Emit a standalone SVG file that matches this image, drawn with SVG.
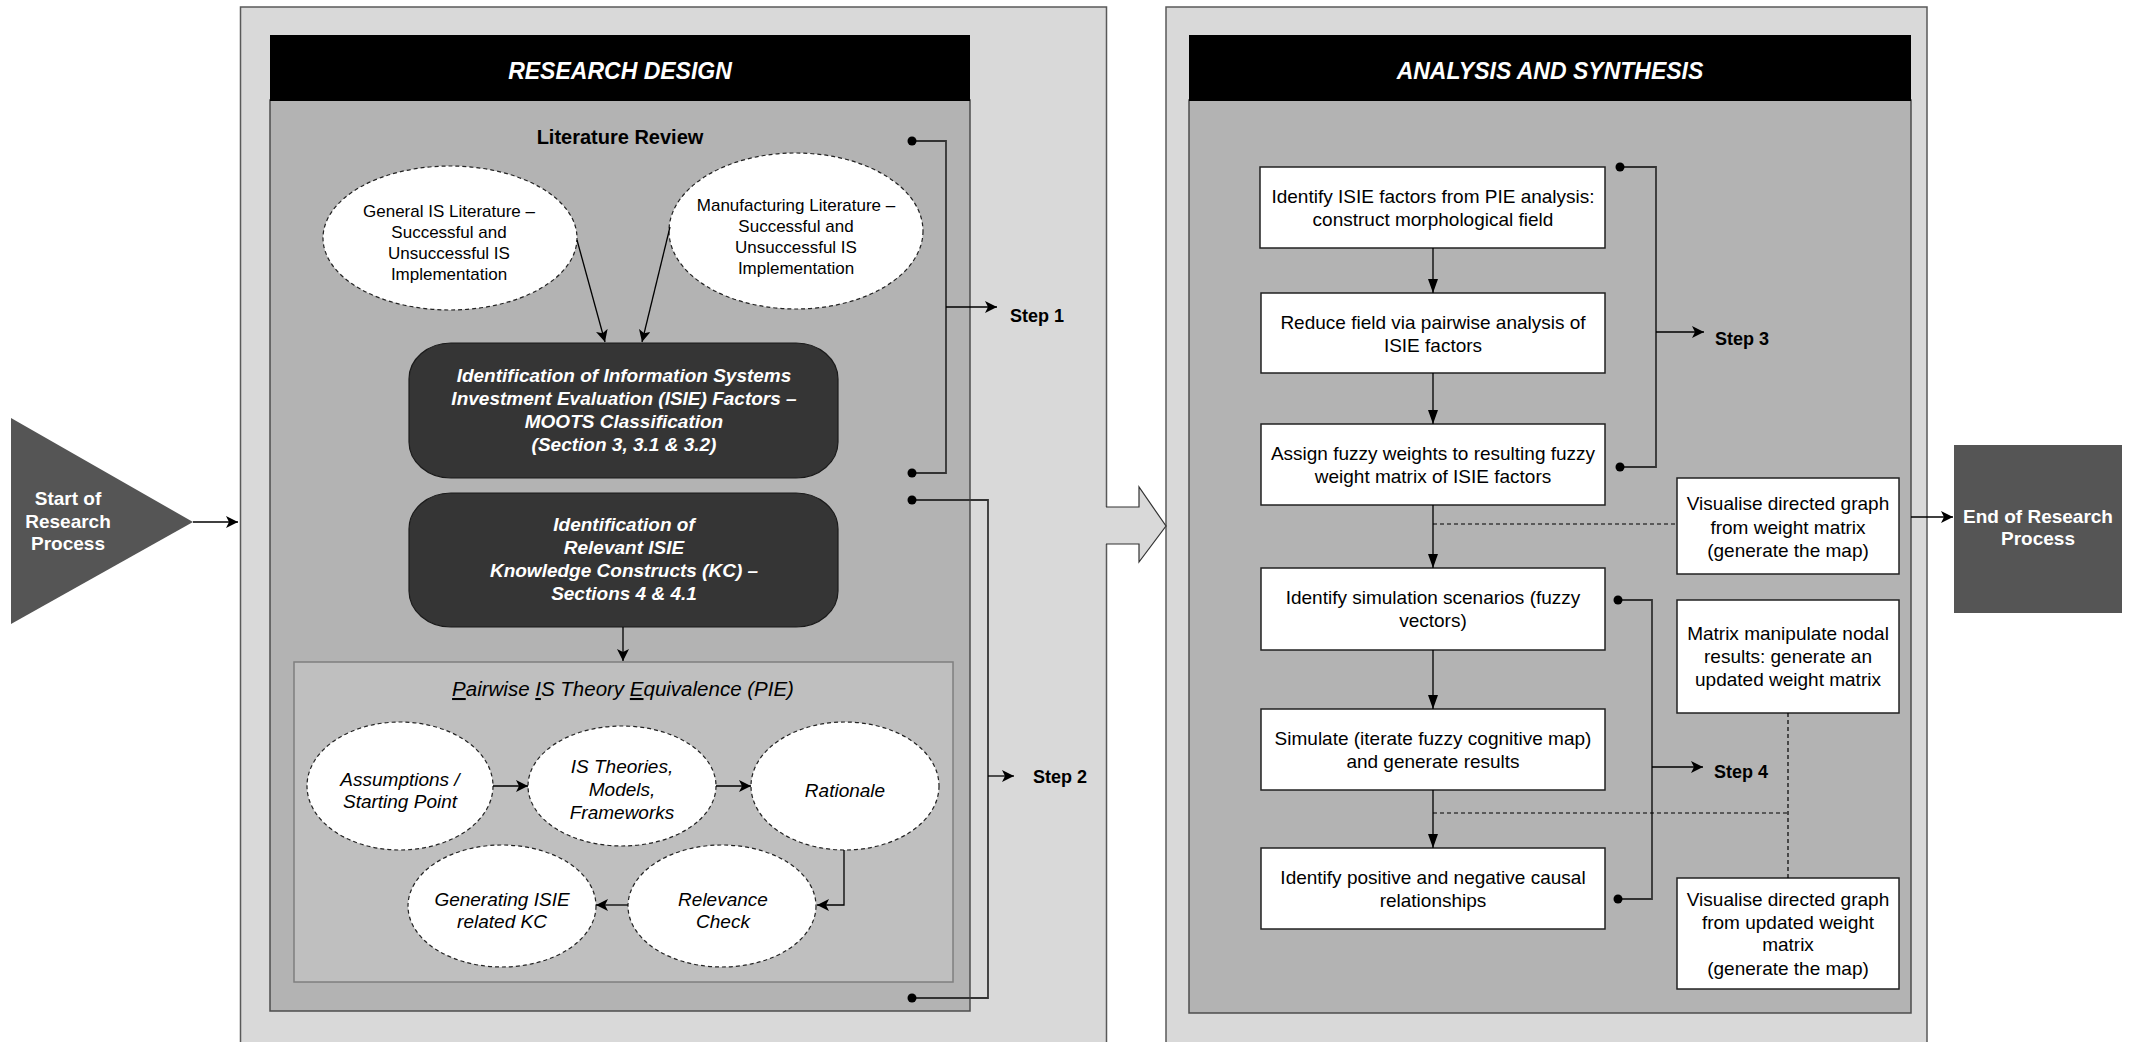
<svg xmlns="http://www.w3.org/2000/svg" width="2129" height="1042" viewBox="0 0 2129 1042">
  <defs>
    <style>
      text { font-family: "Liberation Sans", Arial, sans-serif; }
      .outer { fill: #d9d9d9; stroke: #595959; stroke-width: 1.5; }
      .inner { fill: #b3b3b3; stroke: #4d4d4d; stroke-width: 1.5; }
      .header { fill: #000; }
      .hdr { font-size: 23px; font-weight: bold; font-style: italic; fill: #fff; text-anchor: middle; }
      .sub { font-size: 20px; font-weight: bold; fill: #000; text-anchor: middle; }
      .lit { fill: #fff; stroke: #222; stroke-width: 1.2; stroke-dasharray: 4 3; }
      .t17 { font-size: 17px; fill: #000; text-anchor: middle; }
      .t19 { font-size: 19px; fill: #000; text-anchor: middle; }
      .t19i { font-size: 19px; font-style: italic; fill: #000; text-anchor: middle; }
      .dark { fill: #353535; stroke: #1a1a1a; stroke-width: 1.2; }
      .tw { font-size: 19px; font-weight: bold; font-style: italic; fill: #fff; text-anchor: middle; }
      .pie { fill: #bfbfbf; stroke: #7f7f7f; stroke-width: 1.5; }
      .pietitle { font-size: 20.5px; font-style: italic; fill: #000; text-anchor: middle; }
      .box { fill: #fff; stroke: #222; stroke-width: 1.5; }
      .term { fill: #555; }
      .termtxt { font-size: 19px; font-weight: bold; fill: #fff; text-anchor: middle; }
      .step { font-size: 18px; font-weight: bold; fill: #000; }
      .line { fill: none; stroke: #000; stroke-width: 1.3; }
      .brk { fill: none; stroke: #333; stroke-width: 1.8; }
      .dash { fill: none; stroke: #000; stroke-width: 1.2; stroke-dasharray: 4 3; }
    </style>
    <marker id="arrowFlow" markerUnits="userSpaceOnUse" markerWidth="14" markerHeight="10" refX="14" refY="5" orient="auto">
      <path d="M0,0 L14,5 L0,10 z" fill="#000"/>
    </marker>
    <marker id="arrowStep" markerUnits="userSpaceOnUse" markerWidth="12" markerHeight="12" refX="12" refY="6" orient="auto">
      <path d="M0,0 L12,6 L0,12 L3,6 z" fill="#000"/>
    </marker>
    <marker id="dotEnd" markerUnits="userSpaceOnUse" markerWidth="10" markerHeight="10" refX="5" refY="5" orient="auto">
      <circle cx="5" cy="5" r="4.5" fill="#000"/>
    </marker>
  </defs>

  <rect width="2129" height="1042" fill="#fff"/>

  <!-- Left phase: research design -->
  <g id="panel-research-design">
    <rect class="outer" x="240.5" y="7" width="866" height="1045"/>
    <rect class="inner" x="270" y="100" width="700" height="911"/>
    <rect class="header" x="270" y="35" width="700" height="66"/>
    <text class="hdr" x="620" y="79">RESEARCH DESIGN</text>
    <text class="sub" x="620" y="144">Literature Review</text>
  </g>

  <!-- Right phase: analysis and synthesis -->
  <g id="panel-analysis-synthesis">
    <rect class="outer" x="1166" y="7" width="761" height="1045"/>
    <rect class="inner" x="1189" y="100" width="722" height="913"/>
    <rect class="header" x="1189" y="35" width="722" height="66"/>
    <text class="hdr" x="1550" y="79">ANALYSIS AND SYNTHESIS</text>
  </g>

  <!-- Block arrow joining the two phases -->
  <g id="phase-arrow">
    <polygon points="1104,507 1139,507 1139,487 1166,526 1139,562 1139,544 1104,544" fill="#d9d9d9"/>
    <polyline points="1106,507 1139,507 1139,487 1166,526 1139,562 1139,544 1106,544" fill="none" stroke="#333" stroke-width="1.2"/>
  </g>

  <g id="start">
    <polygon class="term" points="11,418 193,522 11,624"/>
    <text class="termtxt" x="68" y="505">Start of</text>
    <text class="termtxt" x="68" y="528">Research</text>
    <text class="termtxt" x="68" y="550">Process</text>
  </g>

  <g id="end">
    <rect class="term" x="1954" y="445" width="168" height="168"/>
    <text class="termtxt" x="2038" y="523">End of Research</text>
    <text class="termtxt" x="2038" y="545">Process</text>
  </g>

  <g id="lit-general">
    <ellipse class="lit" cx="450" cy="238" rx="127" ry="72"/>
    <text class="t17" x="449" y="217">General IS Literature –</text>
    <text class="t17" x="449" y="238">Successful and</text>
    <text class="t17" x="449" y="259">Unsuccessful IS</text>
    <text class="t17" x="449" y="280">Implementation</text>
  </g>

  <g id="lit-manufacturing">
    <ellipse class="lit" cx="796" cy="231" rx="127" ry="78"/>
    <text class="t17" x="796" y="211">Manufacturing Literature –</text>
    <text class="t17" x="796" y="232">Successful and</text>
    <text class="t17" x="796" y="253">Unsuccessful IS</text>
    <text class="t17" x="796" y="274">Implementation</text>
  </g>

  <g id="isie-factors">
    <rect class="dark" x="409" y="343" width="429" height="135" rx="42" ry="36"/>
    <text class="tw" x="624" y="382">Identification of Information Systems</text>
    <text class="tw" x="624" y="405">Investment Evaluation (ISIE) Factors –</text>
    <text class="tw" x="624" y="428">MOOTS Classification</text>
    <text class="tw" x="624" y="451">(Section 3, 3.1 &amp; 3.2)</text>
  </g>

  <g id="isie-kc">
    <rect class="dark" x="409" y="493" width="429" height="134" rx="42" ry="36"/>
    <text class="tw" x="624" y="531">Identification of</text>
    <text class="tw" x="624" y="554">Relevant ISIE</text>
    <text class="tw" x="624" y="577">Knowledge Constructs (KC) –</text>
    <text class="tw" x="624" y="600">Sections 4 &amp; 4.1</text>
  </g>

  <g id="pie">
    <rect class="pie" x="294" y="662" width="659" height="320"/>
    <text class="pietitle" x="623" y="696"><tspan text-decoration="underline">P</tspan>airwise <tspan text-decoration="underline">I</tspan>S Theory <tspan text-decoration="underline">E</tspan>quivalence (PIE)</text>
  </g>

  <g id="pie-assumptions">
    <ellipse class="lit" cx="400" cy="786" rx="93" ry="64"/>
    <text class="t19i" x="400" y="786">Assumptions /</text>
    <text class="t19i" x="400" y="808">Starting Point</text>
  </g>
  <g id="pie-theories">
    <ellipse class="lit" cx="622" cy="786" rx="94" ry="60"/>
    <text class="t19i" x="622" y="773">IS Theories,</text>
    <text class="t19i" x="622" y="796">Models,</text>
    <text class="t19i" x="622" y="819">Frameworks</text>
  </g>
  <g id="pie-rationale">
    <ellipse class="lit" cx="845" cy="786" rx="94" ry="64"/>
    <text class="t19i" x="845" y="797">Rationale</text>
  </g>
  <g id="pie-relevance">
    <ellipse class="lit" cx="722" cy="906" rx="94" ry="61"/>
    <text class="t19i" x="723" y="906">Relevance</text>
    <text class="t19i" x="723" y="928">Check</text>
  </g>
  <g id="pie-generating">
    <ellipse class="lit" cx="502" cy="906" rx="94" ry="61"/>
    <text class="t19i" x="502" y="906">Generating ISIE</text>
    <text class="t19i" x="502" y="928">related KC</text>
  </g>

  <g id="a-identify">
    <rect class="box" x="1260" y="167" width="345" height="81"/>
    <text class="t19" x="1433" y="203">Identify ISIE factors from PIE analysis:</text>
    <text class="t19" x="1433" y="226">construct morphological field</text>
  </g>
  <g id="a-reduce">
    <rect class="box" x="1261" y="293" width="344" height="80"/>
    <text class="t19" x="1433" y="329">Reduce field via pairwise analysis of</text>
    <text class="t19" x="1433" y="352">ISIE factors</text>
  </g>
  <g id="a-assign">
    <rect class="box" x="1261" y="424" width="344" height="81"/>
    <text class="t19" x="1433" y="460">Assign fuzzy weights to resulting fuzzy</text>
    <text class="t19" x="1433" y="483">weight matrix of ISIE factors</text>
  </g>
  <g id="a-scenarios">
    <rect class="box" x="1261" y="568" width="344" height="82"/>
    <text class="t19" x="1433" y="604">Identify simulation scenarios (fuzzy</text>
    <text class="t19" x="1433" y="627">vectors)</text>
  </g>
  <g id="a-simulate">
    <rect class="box" x="1261" y="709" width="344" height="81"/>
    <text class="t19" x="1433" y="745">Simulate (iterate fuzzy cognitive map)</text>
    <text class="t19" x="1433" y="768">and generate results</text>
  </g>
  <g id="a-causal">
    <rect class="box" x="1261" y="848" width="344" height="81"/>
    <text class="t19" x="1433" y="884">Identify positive and negative causal</text>
    <text class="t19" x="1433" y="907">relationships</text>
  </g>
  <g id="a-visualise">
    <rect class="box" x="1677" y="478" width="222" height="96"/>
    <text class="t19" x="1788" y="510">Visualise directed graph</text>
    <text class="t19" x="1788" y="534">from weight matrix</text>
    <text class="t19" x="1788" y="557">(generate the map)</text>
  </g>
  <g id="a-matrix">
    <rect class="box" x="1677" y="600" width="222" height="113"/>
    <text class="t19" x="1788" y="640">Matrix manipulate nodal</text>
    <text class="t19" x="1788" y="663">results: generate an</text>
    <text class="t19" x="1788" y="686">updated weight matrix</text>
  </g>
  <g id="a-visualise-updated">
    <rect class="box" x="1677" y="878" width="222" height="111"/>
    <text class="t19" x="1788" y="906">Visualise directed graph</text>
    <text class="t19" x="1788" y="929">from updated weight</text>
    <text class="t19" x="1788" y="951">matrix</text>
    <text class="t19" x="1788" y="975">(generate the map)</text>
  </g>

  <g id="step-labels">
    <text class="step" x="1010" y="322">Step 1</text>
    <text class="step" x="1033" y="783">Step 2</text>
    <text class="step" x="1715" y="345">Step 3</text>
    <text class="step" x="1714" y="778">Step 4</text>
  </g>

  <g id="connectors">
    <!-- process entry and exit -->
    <line class="line" x1="193" y1="522" x2="238" y2="522" marker-end="url(#arrowStep)"/>
    <line class="line" x1="1911" y1="517" x2="1953" y2="517" marker-end="url(#arrowStep)"/>

    <!-- literature review -->
    <line class="line" x1="577" y1="240" x2="605" y2="342" marker-end="url(#arrowStep)"/>
    <line class="line" x1="670" y1="227" x2="642" y2="342" marker-end="url(#arrowStep)"/>
    <line class="line" x1="623" y1="627" x2="623" y2="661" marker-end="url(#arrowStep)"/>

    <!-- PIE cycle -->
    <line class="line" x1="493" y1="786" x2="528" y2="786" marker-end="url(#arrowStep)"/>
    <line class="line" x1="716" y1="786" x2="751" y2="786" marker-end="url(#arrowStep)"/>
    <polyline class="line" points="844,850 844,905 817,905" marker-end="url(#arrowStep)"/>
    <line class="line" x1="628" y1="905" x2="596" y2="905" marker-end="url(#arrowStep)"/>

    <!-- step brackets -->
    <polyline class="brk" points="912,141 946,141 946,473 912,473" marker-start="url(#dotEnd)" marker-end="url(#dotEnd)"/>
    <line class="line" x1="946" y1="307" x2="997" y2="307" marker-end="url(#arrowStep)"/>
    <polyline class="brk" points="912,500 988,500 988,998 912,998" marker-start="url(#dotEnd)" marker-end="url(#dotEnd)"/>
    <line class="line" x1="988" y1="776" x2="1014" y2="776" marker-end="url(#arrowStep)"/>
    <polyline class="brk" points="1620,167 1656,167 1656,467 1620,467" marker-start="url(#dotEnd)" marker-end="url(#dotEnd)"/>
    <line class="line" x1="1656" y1="332" x2="1704" y2="332" marker-end="url(#arrowStep)"/>
    <polyline class="brk" points="1618,600 1652,600 1652,899 1618,899" marker-start="url(#dotEnd)" marker-end="url(#dotEnd)"/>
    <line class="line" x1="1652" y1="767" x2="1703" y2="767" marker-end="url(#arrowStep)"/>

    <!-- analysis flow -->
    <line class="line" x1="1433" y1="248" x2="1433" y2="293" marker-end="url(#arrowFlow)"/>
    <line class="line" x1="1433" y1="373" x2="1433" y2="424" marker-end="url(#arrowFlow)"/>
    <line class="line" x1="1433" y1="505" x2="1433" y2="568" marker-end="url(#arrowFlow)"/>
    <line class="line" x1="1433" y1="650" x2="1433" y2="709" marker-end="url(#arrowFlow)"/>
    <line class="line" x1="1433" y1="790" x2="1433" y2="848" marker-end="url(#arrowFlow)"/>

    <!-- graph visualisation links -->
    <line class="dash" x1="1433" y1="524" x2="1677" y2="524"/>
    <line class="dash" x1="1433" y1="813" x2="1788" y2="813"/>
    <line class="dash" x1="1788" y1="713" x2="1788" y2="878"/>
  </g>
</svg>
